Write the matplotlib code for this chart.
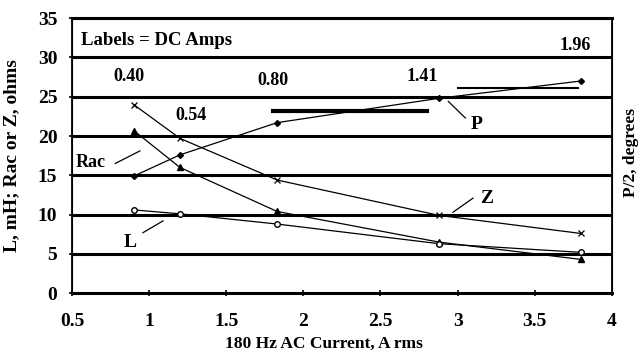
import matplotlib.pyplot as plt

plt.rcParams['font.family'] = ['Liberation Serif', 'DejaVu Serif']
plt.rcParams['font.weight'] = 'bold'
plt.rcParams['axes.labelweight'] = 'bold'

# AC current, A rms (same for every series)
ac_current = [0.9, 1.2, 1.83, 2.88, 3.8]

# series values
z_ohms = [24.0, 19.7, 14.4, 9.9, 7.6]
rac_ohms = [20.7, 16.0, 10.4, 6.5, 4.3]
l_mh = [10.6, 10.1, 8.8, 6.3, 5.2]
p_half_deg = [14.9, 17.6, 21.7, 24.8, 27.0]

# DC amp labels
dc_labels = ["0.40", "0.54", "0.80", "1.41", "1.96"]
dc_label_x = [0.87, 1.27, 1.80, 2.77, 3.76]
dc_label_y = [27.6, 22.6, 27.0, 27.6, 31.5]

xticks = [0.5, 1, 1.5, 2, 2.5, 3, 3.5, 4]
yticks = [0, 5, 10, 15, 20, 25, 30, 35]

fig = plt.figure(figsize=(6.4, 3.62), dpi=100)
ax = fig.add_axes([0.1125, 0.19, 0.8435, 0.76])

# heavy horizontal grid
for yv in yticks[1:]:
    ax.axhline(yv, color="black", lw=2.2, zorder=1)

ax.plot(ac_current, z_ohms, color="black", lw=0.9, marker="x", ms=4, mew=0.9)
ax.plot(ac_current, rac_ohms, color="black", lw=0.9, marker="^", ms=4)
ax.plot(ac_current, l_mh, color="black", lw=0.9, marker="o", ms=4, mfc="white")
ax.plot(ac_current, p_half_deg, color="black", lw=0.9, marker="D", ms=3)

# label underlines
ax.plot([1.8, 2.8], [23.2, 23.2], color="black", lw=3)
ax.plot([3.0, 3.78], [26.1, 26.1], color="black", lw=1.5)

for s, xv, yv in zip(dc_labels, dc_label_x, dc_label_y):
    ax.text(xv, yv, s, ha="center", va="center", fontsize=13)

ax.text(0.56, 32.1, "Labels = DC Amps", ha="left", va="center", fontsize=13.5)

# series names with leader lines
ax.text(0.62, 16.6, "Rac", ha="center", va="center", fontsize=13)
ax.plot([0.78, 0.94], [16.5, 18.1], color="black", lw=0.9)
ax.text(0.88, 6.4, "L", ha="center", va="center", fontsize=14)
ax.plot([0.96, 1.09], [7.7, 9.2], color="black", lw=0.9)
ax.text(3.19, 12.0, "Z", ha="center", va="center", fontsize=14)
ax.plot([2.97, 3.10], [10.3, 12.1], color="black", lw=0.9)
ax.text(3.12, 21.5, "P", ha="center", va="center", fontsize=14)
ax.plot([2.94, 3.05], [24.4, 22.3], color="black", lw=0.9)

ax.set_xlim(0.5, 4)
ax.set_ylim(0, 35)
ax.set_xticks(xticks)
ax.set_xticklabels(["0.5", "1", "1.5", "2", "2.5", "3", "3.5", "4"])
ax.set_yticks(yticks)
ax.tick_params(axis="both", direction="inout", length=5, width=1.2,
               labelsize=14)
ax.tick_params(axis="x", pad=12)
ax.tick_params(axis="y", pad=8)
ax.spines["bottom"].set_linewidth(2.2)
ax.spines["top"].set_linewidth(2.2)
ax.spines["left"].set_linewidth(1.3)
ax.spines["right"].set_linewidth(1.3)

ax.set_xlabel("180 Hz AC Current, A rms", fontsize=12.5)
ax.xaxis.set_label_coords(0.467, -0.155)
ax.set_ylabel("L, mH; Rac or Z, ohms", fontsize=14)
ax.yaxis.set_label_coords(-0.095, 0.5)

ax2 = ax.twinx()
ax2.set_ylim(0, 35)
ax2.set_yticks([])
ax2.set_ylabel("P/2, degrees", fontsize=12.5, rotation=90)
ax2.yaxis.set_label_coords(1.02, 0.51)

fig.savefig("out.png", dpi=100)
